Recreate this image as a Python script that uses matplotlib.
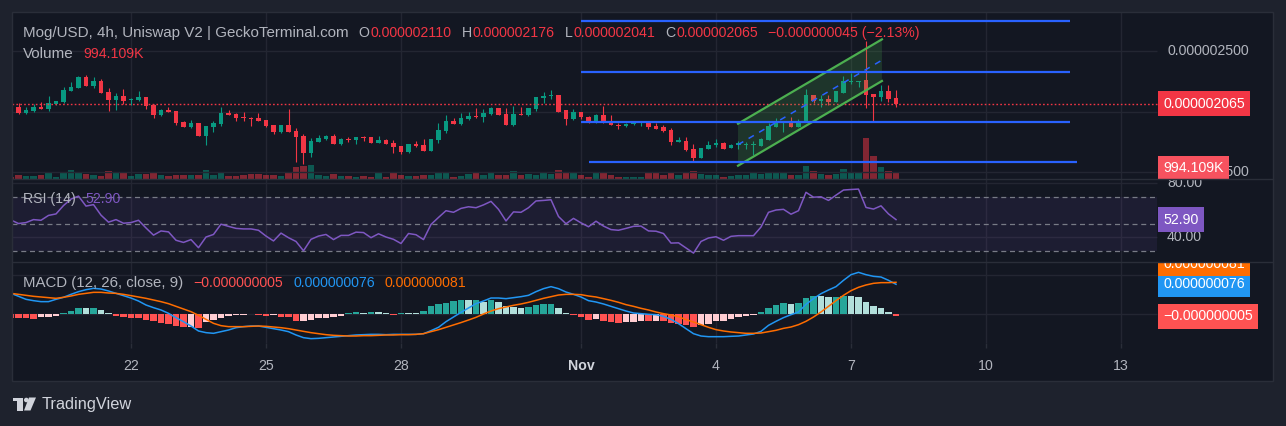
import matplotlib
matplotlib.use("Agg")
import matplotlib.pyplot as plt
import matplotlib.dates as mdates
import matplotlib.transforms as mtransforms
from matplotlib.patches import Polygon, Rectangle, Ellipse
from matplotlib.text import Annotation
from matplotlib.lines import Line2D
import numpy as np
import pandas as pd

# Mog/USD 4h candles, prices in units of 1e-9 USD (2065 -> 0.000002065)
OPEN = [2074, 2039, 1992, 2008, 2039, 2022, 2063, 2080, 2171, 2198,
        2287, 2215, 2253, 2163, 2096, 2129, 2099, 2096, 2121, 2055,
        1972, 2014, 2006, 1915, 1873, 1906, 1799, 1873, 1898, 1992,
        1981, 1956, 1950, 1948, 1931, 1890, 1832, 1890, 1840, 1799,
        1658, 1752, 1774, 1799, 1736, 1774, 1766, 1791, 1791, 1741,
        1766, 1741, 1716, 1667, 1733, 1724, 1675, 1766, 1840, 1923,
        1898, 1939, 1964, 1956, 1981, 2030, 1981, 1890, 1981, 1972,
        2022, 2113, 2132, 2138, 2014, 1937, 1998, 1953, 1909, 1970,
        1920, 1890, 1879, 1896, 1904, 1915, 1882, 1873, 1849, 1752,
        1758, 1692, 1620, 1694, 1722, 1741, 1700, 1727, 1722, 1722,
        1719, 1769, 1876, 1904, 1915, 1876, 1915, 2135, 2091, 2105,
        2083, 2157, 2245, 2245, 2262, 2146, 2124, 2171, 2110]
HIGH = [2074, 2069, 2041, 2061, 2077, 2129, 2085, 2201, 2245, 2298,
        2303, 2284, 2270, 2196, 2154, 2187, 2116, 2168, 2121, 2066,
        2025, 2039, 2006, 1923, 1931, 1909, 1882, 1920, 2039, 2011,
        1992, 1997, 1953, 1989, 1931, 1890, 1890, 2022, 1862, 1815,
        1780, 1804, 1807, 1815, 1782, 1791, 1791, 1802, 1791, 1799,
        1774, 1766, 1716, 1733, 1758, 1774, 1774, 1906, 1972, 1948,
        1989, 1997, 2030, 2022, 2039, 2030, 2030, 2047, 2039, 2030,
        2121, 2163, 2179, 2140, 2014, 2022, 2000, 1964, 1981, 2047,
        1970, 1904, 1909, 1923, 1923, 1915, 1904, 1890, 1862, 1794,
        1791, 1733, 1700, 1760, 1774, 1747, 1733, 1755, 1752, 1755,
        1783, 1904, 1948, 1915, 1953, 1937, 2185, 2141, 2141, 2141,
        2168, 2295, 2317, 2256, 2582, 2146, 2218, 2218, 2176]
LOW = [2030, 1981, 1981, 1997, 2022, 2008, 2052, 2074, 2171, 2198,
       2209, 2196, 2154, 2006, 2014, 2066, 2058, 2091, 2025, 1950,
       1967, 1997, 1893, 1873, 1868, 1799, 1724, 1835, 1884, 1975,
       1926, 1923, 1884, 1923, 1873, 1818, 1826, 1832, 1587, 1570,
       1625, 1752, 1766, 1736, 1724, 1749, 1733, 1758, 1741, 1741,
       1730, 1658, 1650, 1658, 1708, 1675, 1675, 1741, 1824, 1898,
       1890, 1931, 1948, 1915, 1972, 1972, 1890, 1882, 1972, 1964,
       2006, 2072, 2105, 1997, 1887, 1931, 1942, 1904, 1904, 1904,
       1887, 1860, 1873, 1890, 1884, 1860, 1854, 1835, 1725, 1752,
       1678, 1582, 1620, 1694, 1711, 1694, 1700, 1694, 1694, 1642,
       1719, 1769, 1871, 1835, 1876, 1876, 1915, 2075, 2036, 2058,
       2083, 2157, 2232, 2207, 2031, 1926, 2091, 2083, 2041]
CLOSE = [2030, 1992, 2014, 2039, 2025, 2072, 2085, 2179, 2204, 2287,
         2215, 2253, 2154, 2096, 2129, 2088, 2107, 2121, 2050, 1972,
         2011, 1997, 1906, 1876, 1906, 1799, 1882, 1906, 1989, 1975,
         1948, 1948, 1942, 1923, 1884, 1832, 1890, 1832, 1791, 1658,
         1758, 1782, 1799, 1736, 1774, 1766, 1791, 1782, 1741, 1766,
         1733, 1708, 1667, 1733, 1716, 1675, 1774, 1848, 1923, 1898,
         1948, 1964, 1956, 1989, 2030, 1972, 1890, 1981, 1972, 2030,
         2121, 2129, 2140, 2000, 1937, 1998, 1953, 1909, 1970, 1909,
         1887, 1879, 1901, 1915, 1909, 1871, 1860, 1840, 1752, 1766,
         1683, 1620, 1700, 1727, 1741, 1694, 1727, 1738, 1730, 1730,
         1774, 1882, 1915, 1915, 1876, 1915, 2135, 2091, 2102, 2083,
         2168, 2256, 2256, 2256, 2138, 2124, 2171, 2102, 2065]
VOLUME_K = [420, 685, 527, 527, 685, 1160, 420, 1000, 1475, 1160,
            843, 685, 527, 1317, 1000, 1160, 527, 843, 843, 1000,
            685, 527, 685, 685, 685, 685, 1475, 685, 1160, 527,
            527, 685, 843, 843, 685, 685, 527, 1000, 1950, 2107,
            2265, 685, 527, 843, 527, 527, 369, 527, 369, 1160,
            369, 1160, 685, 527, 527, 685, 685, 1000, 1000, 369,
            527, 843, 1160, 685, 1000, 685, 685, 1317, 685, 843,
            685, 1160, 843, 1475, 1000, 1000, 632, 421, 948, 948,
            632, 421, 421, 421, 421, 948, 948, 632, 1159, 632,
            1000, 1317, 843, 632, 632, 421, 527, 632, 632, 1159,
            843, 1159, 1159, 1159, 632, 632, 2107, 1317, 843, 632,
            843, 1633, 948, 948, 6584, 3740, 2002, 1317, 994]
RSI = [52.6, 50.0, 50.7, 52.9, 52.4, 56.0, 57.1, 63.3, 68.1, 70.3,
       62.9, 64.0, 56.2, 51.0, 52.9, 50.2, 50.7, 52.4, 46.7, 41.4,
       44.5, 43.8, 37.6, 36.0, 38.1, 32.1, 40.0, 41.9, 49.5, 47.9,
       46.4, 46.0, 46.0, 45.0, 40.7, 37.1, 42.9, 39.5, 36.7, 29.8,
       38.3, 40.7, 41.9, 38.1, 41.2, 41.2, 43.6, 43.3, 39.5, 42.4,
       40.0, 38.3, 35.2, 42.6, 41.7, 38.1, 49.3, 54.5, 59.5, 58.3,
       61.2, 62.4, 61.7, 63.8, 66.4, 60.5, 51.9, 58.6, 58.3, 61.7,
       66.7, 67.1, 67.6, 55.2, 49.8, 53.8, 50.5, 47.6, 51.7, 48.1,
       45.5, 45.0, 46.4, 47.9, 48.1, 44.5, 44.3, 42.6, 35.5, 35.7,
       31.9, 28.1, 36.7, 39.3, 40.2, 37.6, 40.5, 41.0, 41.0, 41.0,
       47.4, 58.3, 60.0, 60.5, 56.9, 59.5, 73.1, 69.5, 69.8, 67.1,
       71.0, 74.8, 75.2, 75.5, 61.9, 60.7, 63.1, 57.1, 52.9]
# MACD values, units of 1e-9
MACD = [53.0, 45.5, 37.9, 34.5, 32.0, 32.0, 37.9, 43.0, 50.5, 57.3,
        62.3, 65.7, 64.0, 59.0, 53.0, 47.2, 41.2, 33.6, 23.5, 16.8,
        10.9, 2.4, -8.6, -18.7, -29.7, -42.3, -46.5, -48.2, -44.0, -39.8,
        -33.9, -31.3, -29.7, -29.7, -33.0, -36.4, -39.8, -44.0, -52.4, -59.2,
        -61.7, -60.9, -59.2, -57.5, -55.8, -54.1, -52.4, -51.6, -50.8, -50.8,
        -51.6, -50.8, -50.8, -50.8, -50.8, -49.1, -41.5, -33.0, -18.7, -6.9,
        4.9, 15.9, 26.9, 33.7, 41.2, 41.2, 39.6, 42.1, 44.6, 48.0,
        57.3, 64.9, 70.0, 64.9, 56.4, 50.5, 43.8, 34.5, 31.1, 26.1,
        20.1, 14.2, 8.3, 3.3, 1.6, -0.1, -1.0, -5.2, -12.8, -23.7,
        -36.4, -49.1, -55.0, -56.7, -56.7, -56.7, -55.8, -55.0, -52.4, -49.9,
        -43.2, -28.0, -17.8, -8.5, -1.0, 5.8, 25.2, 39.6, 52.2, 61.5,
        70.0, 86.0, 100.3, 106.2, 100.3, 96.1, 94.4, 86.0, 76.0]
SIGNAL = [53.0, 50.5, 48.0, 45.5, 43.8, 42.1, 40.4, 43.0, 46.3, 50.5,
          53.0, 55.6, 55.6, 53.9, 53.0, 50.5, 47.2, 43.8, 40.4, 36.2,
          32.0, 26.9, 20.1, 13.4, 6.6, -2.6, -12.8, -22.9, -28.8, -31.3,
          -31.3, -31.3, -30.5, -29.7, -30.5, -32.2, -33.9, -36.4, -39.8, -43.2,
          -46.5, -49.1, -51.6, -53.3, -54.1, -55.0, -55.0, -54.1, -54.1, -53.3,
          -52.4, -52.4, -51.6, -51.6, -50.8, -49.1, -44.0, -39.0, -33.0, -27.0,
          -21.0, -14.5, -7.7, 0.7, 8.3, 14.2, 18.5, 22.7, 26.1, 30.3,
          35.3, 40.4, 44.6, 48.8, 50.5, 50.5, 49.7, 46.3, 43.8, 39.6,
          35.3, 30.3, 24.4, 20.1, 15.1, 10.9, 5.8, 1.6, -1.8, -6.0,
          -13.6, -19.5, -26.3, -33.0, -38.9, -42.3, -44.8, -46.5, -48.2, -48.2,
          -47.4, -44.0, -40.6, -35.6, -32.2, -26.3, -17.8, -6.9, 5.8, 20.1,
          34.5, 48.0, 59.8, 68.3, 74.2, 78.4, 80.1, 80.1, 81.0]
HIST = [-10.1, -10.3, -10.6, -11.0, -7.6, -5.9, -4.2, 4.2, 9.3, 16.9,
        16.5, 17.0, 10.1, 3.4, -3.4, -6.8, -10.1, -10.5, -14.3, -16.9,
        -21.1, -25.3, -29.5, -31.2, -31.0, -33.8, -18.6, -14.3, -8.4, -3.4,
        -1.7, -1.6, 1.7, -2.5, -3.4, -2.5, -5.9, -6.8, -16.9, -16.5,
        -14.3, -10.1, -8.4, -5.9, -4.2, 3.4, 5.1, 3.4, 5.1, 4.9,
        3.4, -1.7, 2.5, 2.3, 2.1, 8.4, 20.2, 25.3, 28.7, 33.7,
        35.4, 35.2, 37.1, 31.2, 37.1, 31.2, 21.1, 19.4, 16.0, 19.4,
        24.5, 24.8, 25.0, 16.0, 3.4, -1.7, -6.8, -14.3, -11.0, -16.9,
        -19.4, -21.1, -19.4, -19.0, -16.0, -17.7, -16.0, -16.9, -21.1, -24.5,
        -27.9, -32.1, -27.9, -24.5, -16.9, -16.5, -11.0, -6.8, -5.1, -2.5,
        5.9, 16.0, 22.8, 27.9, 27.0, 28.5, 41.4, 46.4, 45.5, 43.9,
        44.5, 46.4, 46.0, 43.9, 31.2, 21.1, 16.0, 5.9, -5.0]

LAST_BAR = "2024-11-08 00:00"
TICK_DATES = ["2024-10-22", "2024-10-25", "2024-10-28", "2024-11-01",
              "2024-11-04", "2024-11-07", "2024-11-10", "2024-11-13"]
TICK_LABELS = ["22", "25", "28", "Nov", "4", "7", "10", "13"]
PRICE_TICKS = [1500, 2000, 2500]

# user drawings
LEVEL_PRICES = [2750, 2331, 1917, 1587]
LEVEL_START = ["2024-11-01 00:00", "2024-11-01 00:00", "2024-11-01 00:00", "2024-11-01 04:00"]
LEVEL_END = ["2024-11-11 21:00", "2024-11-11 21:00", "2024-11-11 21:00", "2024-11-12 00:30"]
CHANNEL_T = ["2024-11-04 11:45", "2024-11-07 16:30"]
CHANNEL_LOWER = [1554, 2254]
CHANNEL_UPPER = [1901, 2598]

HEADER = [("Mog/USD, 4h, Uniswap V2 | GeckoTerminal.com", "gray", 0),
          ("O", "gray", 10), ("0.000002110", "red", 1),
          ("H", "gray", 10), ("0.000002176", "red", 1),
          ("L", "gray", 10), ("0.000002041", "red", 1),
          ("C", "gray", 10), ("0.000002065", "red", 1),
          ("\u22120.000000045 (\u22122.13%)", "red", 10)]
LAST_PRICE = 2065
LAST_VOLUME = "994.109K"
LAST_RSI = 52.90
LAST_MACD = 76
LAST_SIGNAL = 81
LAST_HIST = -5

# colours
FRAME = "#1e222d"
BG = "#131722"
GRID = "#232632"
BORDER = "#2a2e39"
TEXT = "#b2b5be"
UP = "#089981"
DOWN = "#f23645"
PURPLE = "#7e57c2"
BLUE = "#2196f3"
ORANGE = "#ff6d00"
LINE_BLUE = "#2962ff"
CH_GREEN = "#4caf50"
COLORS = {"gray": TEXT, "red": DOWN}

# layout in pixels
W, H = 1286, 426
LEFT, RIGHT, PLOT_R = 12, 1273, 1157
TOP, MAIN_B, RSI_B, MACD_B, TIME_B = 12, 179.5, 262, 343, 381
PX_DAY0, PX_PER_DAY = 131, 45
BASE = mdates.date2num(pd.Timestamp("2024-10-22"))
FS = 10.2


def px_rect(x0, y0, x1, y1):
    return [x0 / W, 1 - y1 / H, (x1 - x0) / W, (y1 - y0) / H]


def px_date(px):
    return BASE + (px - PX_DAY0) / PX_PER_DAY


def ax_frac(px):
    return (px - LEFT) / (RIGHT - LEFT)


def dnum(s):
    return mdates.date2num(pd.Timestamp(s))


def clean(ax):
    ax.set_xlim(px_date(LEFT), px_date(RIGHT))
    ax.set_xticks([])
    ax.set_yticks([])
    for s in ax.spines.values():
        s.set_visible(False)


def vgrid(ax):
    for td in TICK_DATES:
        ax.axvline(dnum(td), color=GRID, lw=1, zorder=0)


def hgrid(ax, ys):
    ax.hlines(ys, px_date(LEFT), px_date(PLOT_R), colors=GRID, lw=1, zorder=0)


def axis_label(ax, y, s):
    tr = mtransforms.blended_transform_factory(ax.transAxes, ax.transData)
    ax.text(ax_frac(1167), y, s, transform=tr, ha="left", va="center",
            color=TEXT, fontsize=FS, clip_on=True, zorder=5)


def value_box(ax, y, s, fc, dy=0, coords="data"):
    if coords == "data":
        tr = mtransforms.blended_transform_factory(ax.transAxes, ax.transData)
    else:
        tr = ax.transAxes
    tr = mtransforms.offset_copy(tr, fig=ax.figure, x=0, y=dy, units="dots")
    ax.text(ax_frac(1163), y, s, transform=tr, ha="left", va="center",
            color="white", fontsize=FS,
            bbox=dict(boxstyle="square,pad=0.38", fc=fc, ec="none"),
            clip_on=True, zorder=20)


def chain(fig, x, y, parts, first_fs=FS):
    s, c, _ = parts[0]
    prev = fig.text(x / W, 1 - y / H, s, color=COLORS.get(c, c), fontsize=first_fs,
                    ha="left", va="center")
    for s, c, gap in parts[1:]:
        prev = fig.add_artist(Annotation(s, xy=(1, 0), xycoords=prev,
                                         xytext=(gap, 0), textcoords="offset pixels",
                                         color=COLORS.get(c, c), fontsize=FS,
                                         ha="left", va="bottom"))


def main():
    plt.rcParams["font.family"] = ["Liberation Sans", "DejaVu Sans"]

    o, h, l, c = (np.array(a, float) for a in (OPEN, HIGH, LOW, CLOSE))
    t = mdates.date2num(pd.date_range(end=LAST_BAR, periods=len(CLOSE), freq="4h"))
    up = c >= o
    cols = np.where(up, UP, DOWN)
    bar_day = 1 / 6

    fig = plt.figure(figsize=(W / 100, H / 100), dpi=100, facecolor=FRAME)

    # price panel with volume underneath
    ax_vol = fig.add_axes(px_rect(LEFT, TOP, RIGHT, MAIN_B))
    ax_main = fig.add_axes(px_rect(LEFT, TOP, RIGHT, MAIN_B))
    ax_rsi = fig.add_axes(px_rect(LEFT, MAIN_B, RIGHT, RSI_B))
    ax_macd = fig.add_axes(px_rect(LEFT, RSI_B, RIGHT, MACD_B))
    ax_time = fig.add_axes(px_rect(LEFT, MACD_B, RIGHT, TIME_B))
    for ax in (ax_vol, ax_main, ax_rsi, ax_macd, ax_time):
        clean(ax)
        ax.set_facecolor(BG)
    ax_main.patch.set_visible(False)

    vgrid(ax_vol)
    ax_vol.set_ylim(0, (MAIN_B - TOP) * 158)
    ax_vol.bar(t, VOLUME_K, width=bar_day * 0.82, color=cols, alpha=0.5, lw=0)

    ax_main.set_ylim(1440, 2824)
    hgrid(ax_main, PRICE_TICKS)
    ax_main.vlines(t, l, h, colors=cols, lw=0.8, zorder=2)
    ax_main.bar(t, np.maximum(np.abs(c - o), 7), bottom=np.minimum(o, c),
                width=bar_day * 0.66, color=cols, lw=0, zorder=3)
    ax_main.hlines(LAST_PRICE, px_date(LEFT), px_date(PLOT_R), colors=DOWN,
                   lw=1, linestyles=(0, (1.2, 1.6)), zorder=4)

    # drawings
    ct = [dnum(s) for s in CHANNEL_T]
    ax_main.add_patch(Polygon([(ct[0], CHANNEL_LOWER[0]), (ct[1], CHANNEL_LOWER[1]),
                               (ct[1], CHANNEL_UPPER[1]), (ct[0], CHANNEL_UPPER[0])],
                              closed=True, fc=CH_GREEN, alpha=0.2, ec="none", zorder=6))
    ax_main.plot(ct, CHANNEL_LOWER, color=CH_GREEN, lw=1.6, zorder=7)
    ax_main.plot(ct, CHANNEL_UPPER, color=CH_GREEN, lw=1.6, zorder=7)
    mid = [(a + b) / 2 for a, b in zip(CHANNEL_LOWER, CHANNEL_UPPER)]
    ax_main.plot(ct, mid, color=LINE_BLUE, lw=1.1, ls=(0, (4, 4)), zorder=7)
    for p, s, e in zip(LEVEL_PRICES, LEVEL_START, LEVEL_END):
        ax_main.hlines(p, dnum(s), dnum(e), colors=LINE_BLUE, lw=1.6, zorder=7)

    for p in PRICE_TICKS:
        axis_label(ax_main, p, f"{p * 1e-9:.9f}")
    value_box(ax_main, LAST_PRICE, f"{LAST_PRICE * 1e-9:.9f}", DOWN)
    value_box(ax_main, (MAIN_B - 168) / (MAIN_B - TOP), LAST_VOLUME, "#f7525f",
              coords="axes")

    # RSI
    ax_rsi.set_ylim(21.5, 82.6)
    vgrid(ax_rsi)
    hgrid(ax_rsi, [80, 40])
    ax_rsi.fill_between([px_date(LEFT), px_date(PLOT_R)], 30, 70, color=PURPLE,
                        alpha=0.1, lw=0, zorder=1)
    ax_rsi.hlines([70, 50, 30], px_date(LEFT), px_date(PLOT_R), colors="#787b86",
                  lw=0.9, linestyles=(0, (4, 3)), zorder=2)
    ax_rsi.plot(t, RSI, color=PURPLE, lw=1.1, zorder=3)
    axis_label(ax_rsi, 80, "80.00")
    axis_label(ax_rsi, 40, "40.00")
    value_box(ax_rsi, LAST_RSI, f"{LAST_RSI:.2f}", PURPLE)

    # MACD
    ax_macd.set_ylim(-72.7, 132.4)
    vgrid(ax_macd)
    hgrid(ax_macd, [0, 100])
    hist = np.array(HIST)
    prev = np.r_[hist[0], hist[:-1]]
    hcols = np.where(hist >= 0, np.where(hist >= prev, "#26a69a", "#b2dfdb"),
                     np.where(hist > prev, "#ffcdd2", "#ff5252"))
    ax_macd.bar(t, hist, width=bar_day * 0.82, color=hcols, lw=0, zorder=2)
    ax_macd.plot(t, MACD, color=BLUE, lw=1.1, zorder=3)
    ax_macd.plot(t, SIGNAL, color=ORANGE, lw=1.1, zorder=3)
    value_box(ax_macd, LAST_MACD, "0.000000076", BLUE)
    value_box(ax_macd, LAST_MACD, "0.000000081", ORANGE, dy=20.5)
    value_box(ax_macd, LAST_HIST, "\u22120.000000005", "#ff5252")

    # time axis
    ax_time.set_ylim(0, 1)
    for td, lab in zip(TICK_DATES, TICK_LABELS):
        x = dnum(td)
        ax_time.vlines(x, 0.86, 1.0, colors=BORDER, lw=1)
        ax_time.text(x, 0.4, lab, ha="center", va="center", fontsize=FS,
                     color="#d1d4dc" if lab == "Nov" else TEXT,
                     fontweight="bold" if lab == "Nov" else "normal")

    # frame and separators
    for yy in (MAIN_B, RSI_B):
        fig.add_artist(Line2D([LEFT / W, RIGHT / W], [1 - yy / H] * 2, color=BORDER, lw=1))
    fig.add_artist(Rectangle((LEFT / W, 1 - TIME_B / H), (RIGHT - LEFT) / W,
                             (TIME_B - TOP) / H, transform=fig.transFigure,
                             fill=False, ec=BORDER, lw=1))

    # legends
    chain(fig, 23, 33, HEADER, first_fs=10.9)
    chain(fig, 23, 54, [("Volume", "gray", 0), (LAST_VOLUME, "red", 10)], first_fs=11)
    chain(fig, 23, 199, [("RSI (14)", "gray", 0), (f"{LAST_RSI:.2f}", PURPLE, 10)])
    chain(fig, 23, 283, [("MACD (12, 26, close, 9)", "gray", 0),
                         ("\u22120.000000005", "#ff5252", 10),
                         ("0.000000076", BLUE, 10), ("0.000000081", ORANGE, 10)],
          first_fs=10.8)

    # TradingView logo
    def fp(pts):
        return [(x / W, 1 - y / H) for x, y in pts]
    logo = "#d1d4dc"
    fig.add_artist(Polygon(fp([(12.5, 397.5), (23, 397.5), (23, 401), (12.5, 401)]),
                           transform=fig.transFigure, fc=logo, ec="none"))
    fig.add_artist(Polygon(fp([(17, 397.5), (22.5, 397.5), (22.5, 410.5), (17, 410.5)]),
                           transform=fig.transFigure, fc=logo, ec="none"))
    fig.add_artist(Ellipse((26.3 / W, 1 - 400 / H), 4.6 / W, 4.6 / H,
                           transform=fig.transFigure, fc=logo, ec="none"))
    fig.add_artist(Polygon(fp([(29, 397.5), (36, 397.5), (30.5, 410.5), (24, 410.5)]),
                           transform=fig.transFigure, fc=logo, ec="none"))
    fig.text(42 / W, 1 - 404 / H, "TradingView", color=logo, fontsize=11.8,
             ha="left", va="center")

    fig.savefig("out.png", dpi=100, facecolor=FRAME)


if __name__ == "__main__":
    main()
